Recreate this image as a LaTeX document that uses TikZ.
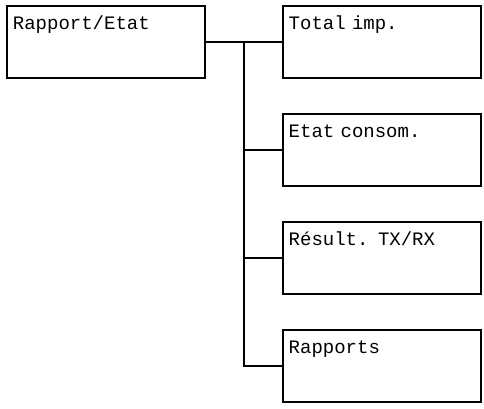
\documentclass[tikz,border=0pt]{standalone}
\usepackage{fontspec}
\setmonofont{Liberation Mono}
\usetikzlibrary{positioning,calc}

\newcommand{\menufont}{\ttfamily\fontsize{19}{22}\selectfont
  \spaceskip=0.6em\relax\xspaceskip=0.6em\relax}

\tikzset{
  menubox/.style={draw, line width=1.8pt, anchor=north west, inner xsep=6pt, inner ysep=0pt,
    text width=186pt, align=left, text height=24pt, text depth=48pt, font=\menufont}
}

\begin{document}
\begin{tikzpicture}[x=1pt, y=1pt, line width=1.8pt]
  \useasboundingbox (0,0) rectangle (484,-409);
  \node[menubox] (root) at (6,-5) {Rapport/Etat};
  \node[menubox, right=76pt of root.north east, anchor=north west] (total) {Total imp.};
  \node[menubox, below=34.2pt of total.south west, anchor=north west] (consom) {Etat consom.};
  \node[menubox, below=34.2pt of consom.south west, anchor=north west] (result) {Résult. TX/RX};
  \node[menubox, below=34.2pt of result.south west, anchor=north west] (rapports) {Rapports};
  % connectors
  \coordinate (bus) at ($(root.east)!.5!(total.west)$);
  \draw (root.east) -- (total.west);
  \foreach \n in {consom, result, rapports}
    \draw (bus) |- (\n.west);
\end{tikzpicture}
\end{document}
